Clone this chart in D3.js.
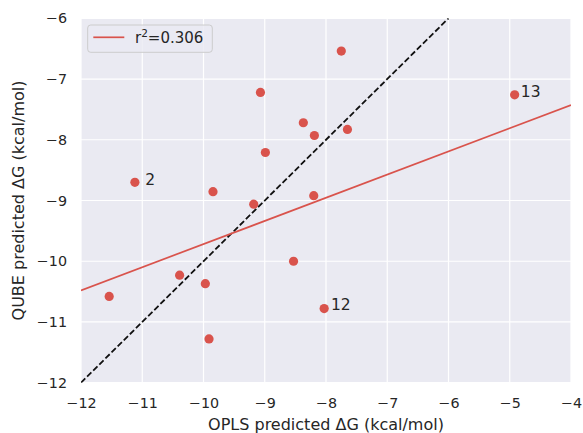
<!DOCTYPE html>
<html lang="en">
<head>
<meta charset="UTF-8">
<title>QUBE vs OPLS</title>
<script src="https://d3js.org/d3.v7.min.js"></script>
<style>
  body { margin: 0; background: #fff; }
  text { font-family: "DejaVu Sans", sans-serif; fill: #262626; }
</style>
</head>
<body>
<div id="chart"></div>
<script>
// data
var oplsDG = [-11.12, -9.07, -8.99, -9.845, -9.18, -7.75, -4.92, -8.37, -8.19, -7.65,
              -8.20, -11.54, -10.39, -9.97, -9.91, -8.53, -8.03];
var qubeDG = [-8.70, -7.22, -8.21, -8.855, -9.06, -6.54, -7.26, -7.72, -7.93, -7.83,
              -8.92, -10.58, -10.23, -10.37, -11.28, -10.00, -10.78];
var labelNames = ["2", "13", "12"];
var labelX = [-10.95, -4.82, -7.92];
var labelY = [-8.66, -7.21, -10.72];
var fitX = [-12, -4];
var fitY = [-10.48, -7.43];
var diagX = [-12, -6];
var xTicks = [-12, -11, -10, -9, -8, -7, -6, -5, -4];
var yTicks = [-12, -11, -10, -9, -8, -7, -6];

var W = 583, H = 433;
var margin = { top: 18.3, right: 12, bottom: 50.3, left: 81 };
var red = "#d9534c";

var svg = d3.select("#chart").append("svg")
  .attr("width", W).attr("height", H);

var x = d3.scaleLinear().domain([-12, -4]).range([margin.left, W - margin.right]);
var y = d3.scaleLinear().domain([-12, -6]).range([H - margin.bottom, margin.top]);

// background
svg.append("rect")
  .attr("x", x(-12)).attr("y", y(-6))
  .attr("width", x(-4) - x(-12)).attr("height", y(-12) - y(-6))
  .attr("fill", "#eaeaf2");

// grid
svg.append("g").selectAll("line").data(xTicks).join("line")
  .attr("x1", d => x(d)).attr("x2", d => x(d))
  .attr("y1", y(-12)).attr("y2", y(-6))
  .attr("stroke", "#fff").attr("stroke-width", 1.2);
svg.append("g").selectAll("line").data(yTicks).join("line")
  .attr("y1", d => y(d)).attr("y2", d => y(d))
  .attr("x1", x(-12)).attr("x2", x(-4))
  .attr("stroke", "#fff").attr("stroke-width", 1.2);

// axes (no domain, no tick lines)
var fmt = d3.format("d");
svg.append("g")
  .attr("transform", "translate(0," + y(-12) + ")")
  .call(d3.axisBottom(x).tickValues(xTicks).tickFormat(fmt).tickSize(0).tickPadding(15))
  .call(g => g.select(".domain").remove())
  .call(g => g.selectAll("text").attr("font-size", 14.3).attr("font-family", "DejaVu Sans").attr("fill", "#262626"));
svg.append("g")
  .attr("transform", "translate(" + x(-12) + ",0)")
  .call(d3.axisLeft(y).tickValues(yTicks).tickFormat(fmt).tickSize(0).tickPadding(14))
  .call(g => g.select(".domain").remove())
  .call(g => g.selectAll("text").attr("font-size", 14.3).attr("font-family", "DejaVu Sans").attr("fill", "#262626"));

// clip for lines
svg.append("clipPath").attr("id", "clip").append("rect")
  .attr("x", x(-12)).attr("y", y(-6))
  .attr("width", x(-4) - x(-12)).attr("height", y(-12) - y(-6));

var line = d3.line().x(d => x(d[0])).y(d => y(d[1]));

// y = x reference
svg.append("path")
  .datum(diagX.map(v => [v, v]))
  .attr("clip-path", "url(#clip)")
  .attr("d", line)
  .attr("fill", "none").attr("stroke", "#111")
  .attr("stroke-width", 1.8).attr("stroke-dasharray", "6,2.6");

// regression fit
svg.append("path")
  .datum(fitX.map((v, i) => [v, fitY[i]]))
  .attr("clip-path", "url(#clip)")
  .attr("d", line)
  .attr("fill", "none").attr("stroke", red).attr("stroke-width", 1.7);

// points
svg.append("g").selectAll("circle").data(oplsDG).join("circle")
  .attr("cx", d => x(d))
  .attr("cy", (d, i) => y(qubeDG[i]))
  .attr("r", 4.6)
  .attr("fill", red);

// point labels
svg.append("g").selectAll("text").data(labelNames).join("text")
  .attr("x", (d, i) => x(labelX[i]))
  .attr("y", (d, i) => y(labelY[i]))
  .attr("dy", "0.35em")
  .attr("font-size", 15.5)
  .text(d => d);

// axis titles
svg.append("text")
  .attr("x", (x(-12) + x(-4)) / 2).attr("y", 424)
  .attr("dy", "0.35em")
  .attr("text-anchor", "middle").attr("font-size", 16)
  .text("OPLS predicted ΔG (kcal/mol)");
svg.append("text")
  .attr("transform", "translate(18," + (y(-12) + y(-6)) / 2 + ") rotate(-90)")
  .attr("dy", "0.35em")
  .attr("text-anchor", "middle").attr("font-size", 16)
  .text("QUBE predicted ΔG (kcal/mol)");

// legend
var lg = svg.append("g");
lg.append("rect")
  .attr("x", 87.7).attr("y", 25).attr("width", 124.6).attr("height", 27.3)
  .attr("rx", 3).attr("fill", "#eaeaf2").attr("fill-opacity", 0.8)
  .attr("stroke", "#cccccc").attr("stroke-width", 1);
lg.append("line")
  .attr("x1", 93.3).attr("x2", 124.3).attr("y1", 37.3).attr("y2", 37.3)
  .attr("stroke", red).attr("stroke-width", 1.7);
var lt = lg.append("text").attr("x", 135).attr("y", 43).attr("font-size", 15);
lt.append("tspan").text("r");
lt.append("tspan").attr("font-size", 10.5).attr("dy", -6).text("2");
lt.append("tspan").attr("dy", 6).text("=0.306");
</script>
</body>
</html>
